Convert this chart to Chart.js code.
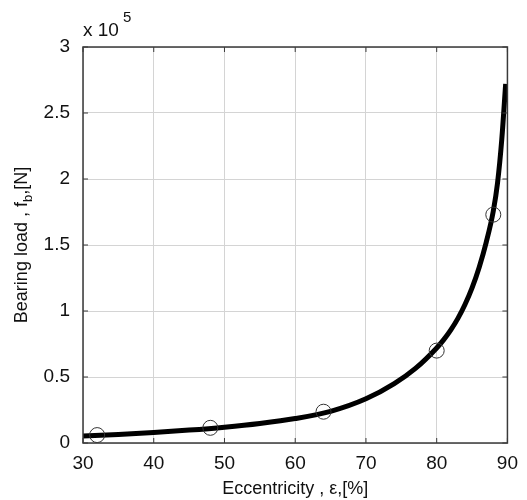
<!DOCTYPE html>
<html>
<head>
<meta charset="utf-8">
<script src="https://cdn.jsdelivr.net/npm/chart.js@4.4.1/dist/chart.umd.min.js"></script>
<style>
  html, body { margin: 0; padding: 0; background: #fff; }
  #wrap { width: 527px; height: 500px; }
</style>
</head>
<body>
<div id="wrap"><canvas id="loadChart" width="527" height="500"></canvas></div>
<script>
// fitted curve, eccentricity [%] vs bearing load [N]
const curveEcc  = [30, 35, 40, 45, 50, 55, 60, 65, 70, 74, 77, 80, 81, 82, 83, 84, 85, 86, 87, 88, 88.6, 89.2, 89.75];
const curveLoad = [5300, 6500, 8000, 9800, 12000, 14800, 18500, 24000, 33500, 45000, 56500, 72000, 78300, 85700, 94400, 104900, 117500, 133000, 152000, 175700, 197000, 230000, 272000];

// measured points (circles)
const markEcc  = [32, 48, 64, 80, 88];
const markLoad = [6000, 11500, 23700, 70000, 173000];

const xTicks = [30, 40, 50, 60, 70, 80, 90];
const yTicks = [0, 0.5, 1, 1.5, 2, 2.5, 3];

const FONT = "'Liberation Sans', Arial, Helvetica, sans-serif";

// MATLAB-ish inward ticks, box, y label with subscript and the "x 10^5" multiplier
const axesDecor = {
    id: 'axesDecor',
    afterDatasetsDraw(chart) {
        const c = chart.ctx;
        const a = chart.chartArea;
        const xs = chart.scales.x, ys = chart.scales.y;
        c.save();
        c.strokeStyle = '#3a3a3a';
        c.lineWidth = 1.5;
        c.strokeRect(a.left, a.top, a.right - a.left, a.bottom - a.top);
        c.lineWidth = 1;
        xTicks.forEach(v => {
            const px = xs.getPixelForValue(v);
            c.beginPath();
            c.moveTo(px, a.bottom); c.lineTo(px, a.bottom - 5);
            c.moveTo(px, a.top); c.lineTo(px, a.top + 5);
            c.stroke();
        });
        yTicks.forEach(v => {
            const py = ys.getPixelForValue(v * 1e5);
            c.beginPath();
            c.moveTo(a.left, py); c.lineTo(a.left + 5, py);
            c.moveTo(a.right, py); c.lineTo(a.right - 5, py);
            c.stroke();
        });

        c.fillStyle = '#111';
        c.textBaseline = 'alphabetic';
        c.textAlign = 'left';
        c.font = '19px ' + FONT;
        c.fillText('x 10', a.left, a.top - 11);
        c.font = '15px ' + FONT;
        c.fillText('5', a.left + 40, a.top - 25);

        // y axis title: Bearing load , f_b,[N]
        const big = '18px ' + FONT, small = '13px ' + FONT;
        const parts = [['Bearing load , f', big, 0], ['b', small, 5], [',[N]', big, 0]];
        let total = 0;
        parts.forEach(p => { c.font = p[1]; total += c.measureText(p[0]).width; });
        c.translate(27, (a.top + a.bottom) / 2);
        c.rotate(-Math.PI / 2);
        let x = -total / 2;
        parts.forEach(p => {
            c.font = p[1];
            c.fillText(p[0], x, p[2]);
            x += c.measureText(p[0]).width;
        });
        c.restore();
    }
};

new Chart(document.getElementById('loadChart'), {
    type: 'scatter',
    data: {
        datasets: [{
            label: 'curve',
            data: curveEcc.map((e, i) => ({ x: e, y: curveLoad[i] })),
            showLine: true,
            borderColor: '#000',
            borderWidth: 5,
            pointRadius: 0,
            cubicInterpolationMode: 'monotone',
            order: 2
        }, {
            label: 'points',
            data: markEcc.map((e, i) => ({ x: e, y: markLoad[i] })),
            showLine: false,
            pointStyle: 'circle',
            pointRadius: 7.5,
            pointBackgroundColor: 'rgba(0,0,0,0)',
            pointBorderColor: '#333',
            pointBorderWidth: 1,
            order: 1
        }]
    },
    options: {
        responsive: false,
        animation: false,
        devicePixelRatio: 1,
        layout: { padding: { top: 47, right: 12, bottom: 0, left: 0 } },
        plugins: {
            legend: { display: false },
            tooltip: { enabled: false }
        },
        scales: {
            x: {
                type: 'linear',
                min: 30,
                max: 90,
                afterFit: s => { s.height = 57; },
                afterBuildTicks: s => { s.ticks = xTicks.map(v => ({ value: v })); },
                grid: { color: '#d4d4d4', borderDash: [2, 3], drawTicks: false },
                border: { display: false },
                ticks: { color: '#111', padding: 9, font: { family: FONT, size: 19 } },
                title: {
                    display: true,
                    text: 'Eccentricity , ε,[%]',
                    color: '#111',
                    padding: { top: 2, bottom: 0 },
                    font: { family: FONT, size: 18 }
                }
            },
            y: {
                type: 'linear',
                min: 0,
                max: 300000,
                afterFit: s => { s.width = 83; },
                afterBuildTicks: s => { s.ticks = yTicks.map(v => ({ value: v * 1e5 })); },
                grid: { color: '#d4d4d4', borderDash: [2, 3], drawTicks: false },
                border: { display: false },
                ticks: {
                    color: '#111',
                    padding: 13,
                    font: { family: FONT, size: 19 },
                    callback: v => String(v / 1e5)
                }
            }
        }
    },
    plugins: [axesDecor]
});
</script>
</body>
</html>
